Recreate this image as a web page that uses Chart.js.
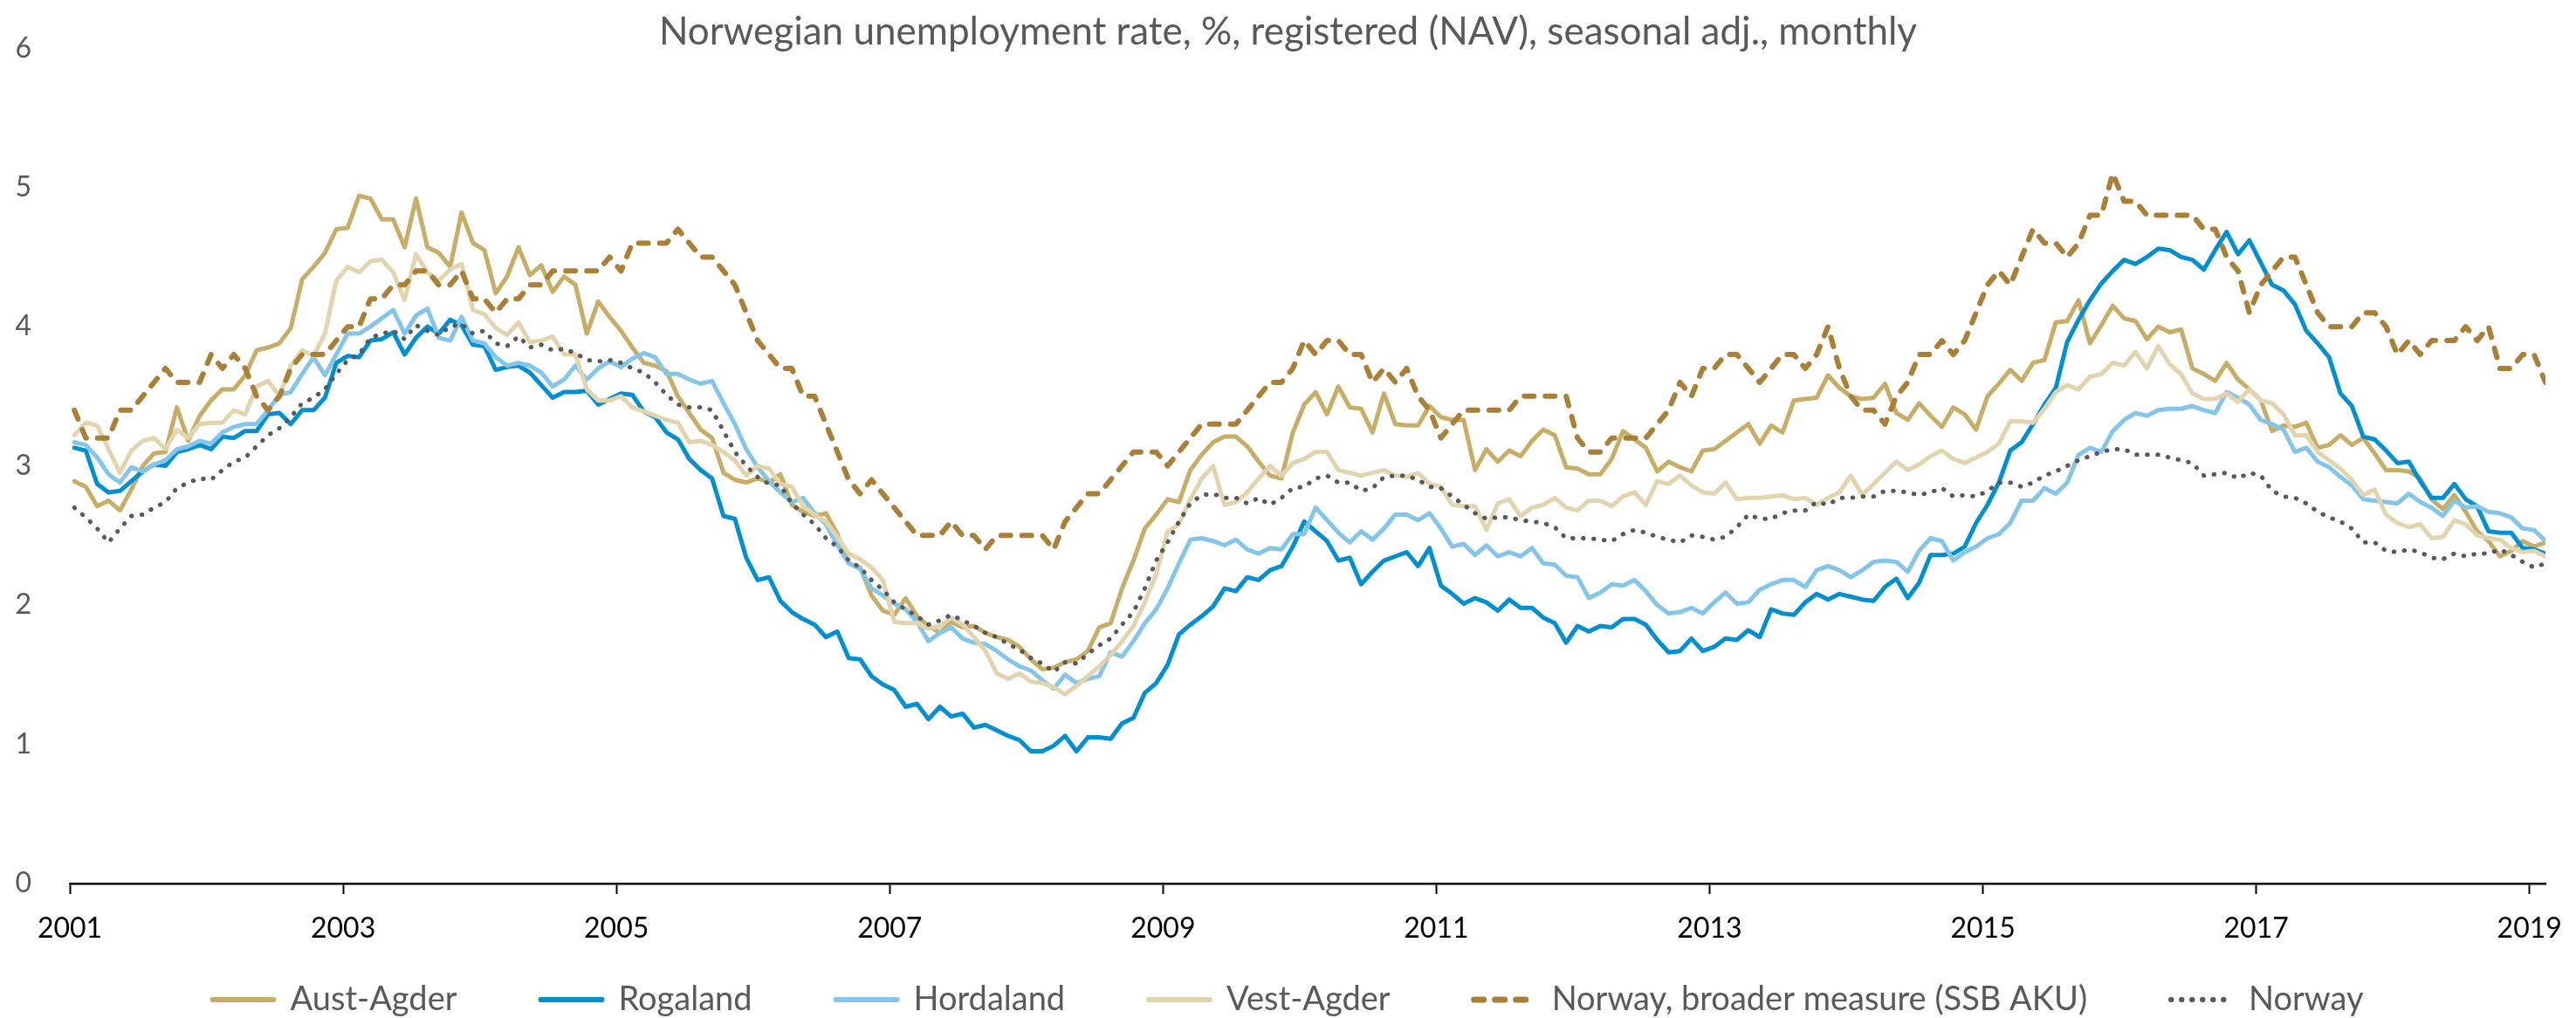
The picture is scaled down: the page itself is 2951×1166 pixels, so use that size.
<!DOCTYPE html>
<html>
<head>
<meta charset="utf-8">
<title>Norwegian unemployment rate</title>
<script src="https://cdn.jsdelivr.net/npm/chart.js@4.4.1/dist/chart.umd.min.js"></script>
<style>
  html, body { margin: 0; padding: 0; background: #fff; }
  #chart { display: block; }
</style>
</head>
<body>
<canvas id="chart" width="2951" height="1166"></canvas>
<script>
// Registered unemployment (NAV), seasonally adjusted, monthly Jan 2001 - Feb 2019
const firstYear = 2001;
const yearTicks = [2001, 2003, 2005, 2007, 2009, 2011, 2013, 2015, 2017, 2019];
const valueTicks = [0, 1, 2, 3, 4, 5, 6];

const austAgder = [
  2.89, 2.85, 2.71, 2.75, 2.68, 2.83, 3.00, 3.09, 3.10, 3.42, 3.18, 3.36, // 2001
  3.47, 3.55, 3.55, 3.65, 3.83, 3.85, 3.88, 3.99, 4.34, 4.43, 4.53, 4.70,
  4.71, 4.94, 4.92, 4.77, 4.77, 4.57, 4.92, 4.57, 4.53, 4.43, 4.82, 4.60,
  4.55, 4.24, 4.36, 4.57, 4.37, 4.44, 4.25, 4.36, 4.30, 3.95, 4.18, 4.07,
  3.97, 3.85, 3.74, 3.72, 3.68, 3.50, 3.38, 3.26, 3.20, 2.95, 2.90, 2.88, // 2005
  2.91, 2.88, 2.94, 2.72, 2.67, 2.64, 2.66, 2.51, 2.30, 2.27, 2.07, 1.96,
  1.93, 2.05, 1.92, 1.85, 1.80, 1.88, 1.84, 1.85, 1.80, 1.77, 1.75, 1.70,
  1.61, 1.54, 1.55, 1.59, 1.61, 1.67, 1.84, 1.87, 2.12, 2.32, 2.55, 2.65,
  2.76, 2.74, 2.97, 3.08, 3.17, 3.21, 3.21, 3.14, 3.03, 2.93, 2.91, 3.24,
  3.44, 3.53, 3.37, 3.57, 3.42, 3.41, 3.24, 3.52, 3.30, 3.29, 3.29, 3.43, // 2010
  3.35, 3.33, 3.33, 2.97, 3.12, 3.03, 3.11, 3.07, 3.18, 3.26, 3.22, 2.99,
  2.98, 2.94, 2.94, 3.05, 3.25, 3.19, 3.13, 2.96, 3.03, 2.99, 2.96, 3.11,
  3.12, 3.18, 3.24, 3.30, 3.16, 3.29, 3.24, 3.47, 3.48, 3.49, 3.65, 3.56,
  3.50, 3.48, 3.49, 3.59, 3.38, 3.33, 3.45, 3.36, 3.28, 3.42, 3.37, 3.26,
  3.50, 3.59, 3.69, 3.61, 3.74, 3.76, 4.03, 4.04, 4.19, 3.88, 4.01, 4.15, // 2015
  4.06, 4.04, 3.91, 4.00, 3.96, 3.98, 3.70, 3.66, 3.61, 3.74, 3.62, 3.55,
  3.47, 3.25, 3.29, 3.28, 3.31, 3.13, 3.15, 3.22, 3.15, 3.20, 3.09, 2.97,
  2.97, 2.96, 2.91, 2.76, 2.69, 2.79, 2.67, 2.53, 2.46, 2.35, 2.39, 2.46,
  2.42, 2.45
];

const rogaland = [
  3.13, 3.11, 2.87, 2.81, 2.82, 2.89, 2.96, 3.01, 3.00, 3.10, 3.12, 3.15, // 2001
  3.12, 3.21, 3.20, 3.25, 3.25, 3.37, 3.38, 3.30, 3.40, 3.40, 3.49, 3.74,
  3.79, 3.78, 3.90, 3.91, 3.96, 3.80, 3.92, 4.00, 3.95, 4.05, 4.01, 3.87,
  3.86, 3.69, 3.71, 3.72, 3.67, 3.58, 3.49, 3.53, 3.53, 3.54, 3.44, 3.48,
  3.52, 3.51, 3.39, 3.35, 3.24, 3.19, 3.05, 2.97, 2.91, 2.64, 2.62, 2.34, // 2005
  2.18, 2.20, 2.03, 1.95, 1.90, 1.86, 1.77, 1.81, 1.62, 1.61, 1.49, 1.43,
  1.39, 1.27, 1.29, 1.18, 1.27, 1.20, 1.22, 1.12, 1.14, 1.10, 1.06, 1.03,
  0.95, 0.95, 0.99, 1.06, 0.95, 1.05, 1.05, 1.04, 1.15, 1.19, 1.37, 1.44,
  1.57, 1.79, 1.86, 1.92, 1.99, 2.12, 2.10, 2.20, 2.18, 2.25, 2.28, 2.42,
  2.60, 2.53, 2.46, 2.32, 2.34, 2.15, 2.24, 2.32, 2.35, 2.38, 2.28, 2.41, // 2010
  2.14, 2.08, 2.01, 2.05, 2.02, 1.96, 2.04, 1.98, 1.98, 1.91, 1.87, 1.73,
  1.85, 1.81, 1.85, 1.84, 1.90, 1.90, 1.86, 1.75, 1.66, 1.67, 1.76, 1.67,
  1.70, 1.76, 1.75, 1.82, 1.77, 1.97, 1.94, 1.93, 2.02, 2.08, 2.04, 2.08,
  2.06, 2.04, 2.03, 2.13, 2.19, 2.05, 2.16, 2.36, 2.36, 2.37, 2.42, 2.59,
  2.72, 2.88, 3.11, 3.17, 3.30, 3.44, 3.56, 3.89, 4.05, 4.19, 4.31, 4.40, // 2015
  4.48, 4.45, 4.50, 4.56, 4.55, 4.50, 4.48, 4.41, 4.55, 4.68, 4.52, 4.62,
  4.46, 4.30, 4.26, 4.16, 3.97, 3.88, 3.78, 3.52, 3.43, 3.21, 3.19, 3.11,
  3.02, 3.03, 2.89, 2.77, 2.77, 2.87, 2.76, 2.71, 2.53, 2.52, 2.52, 2.41,
  2.40, 2.37
];

const hordaland = [
  3.17, 3.15, 3.06, 2.94, 2.88, 2.99, 2.96, 3.01, 3.04, 3.12, 3.14, 3.18, // 2001
  3.16, 3.24, 3.28, 3.30, 3.30, 3.40, 3.51, 3.53, 3.66, 3.78, 3.65, 3.80,
  3.95, 3.95, 4.00, 4.06, 4.12, 3.95, 4.08, 4.13, 3.92, 3.90, 4.07, 3.90,
  3.88, 3.78, 3.72, 3.74, 3.72, 3.67, 3.57, 3.62, 3.72, 3.62, 3.70, 3.75,
  3.71, 3.77, 3.81, 3.78, 3.66, 3.66, 3.62, 3.59, 3.61, 3.45, 3.30, 3.12, // 2005
  2.99, 2.89, 2.81, 2.74, 2.77, 2.66, 2.58, 2.43, 2.30, 2.26, 2.12, 2.07,
  2.01, 1.97, 1.88, 1.74, 1.80, 1.84, 1.76, 1.73, 1.72, 1.67, 1.61, 1.56,
  1.53, 1.46, 1.40, 1.50, 1.44, 1.47, 1.49, 1.66, 1.63, 1.74, 1.87, 1.97,
  2.12, 2.30, 2.47, 2.48, 2.46, 2.43, 2.47, 2.40, 2.37, 2.41, 2.40, 2.51,
  2.51, 2.70, 2.61, 2.52, 2.45, 2.53, 2.47, 2.55, 2.65, 2.65, 2.61, 2.66, // 2010
  2.55, 2.42, 2.44, 2.36, 2.43, 2.35, 2.38, 2.35, 2.41, 2.30, 2.29, 2.21,
  2.20, 2.05, 2.09, 2.15, 2.14, 2.18, 2.10, 2.00, 1.94, 1.95, 1.98, 1.94,
  2.02, 2.09, 2.01, 2.02, 2.11, 2.15, 2.18, 2.18, 2.13, 2.25, 2.28, 2.25,
  2.20, 2.25, 2.31, 2.32, 2.31, 2.24, 2.39, 2.48, 2.46, 2.32, 2.38, 2.42,
  2.48, 2.51, 2.59, 2.75, 2.75, 2.84, 2.80, 2.88, 3.08, 3.13, 3.10, 3.25, // 2015
  3.33, 3.38, 3.36, 3.40, 3.41, 3.41, 3.43, 3.40, 3.38, 3.53, 3.49, 3.44,
  3.33, 3.30, 3.26, 3.10, 3.13, 3.03, 2.99, 2.92, 2.86, 2.76, 2.75, 2.74,
  2.73, 2.80, 2.74, 2.70, 2.64, 2.75, 2.70, 2.71, 2.67, 2.66, 2.63, 2.55,
  2.54, 2.46
];

const vestAgder = [
  3.22, 3.31, 3.29, 3.12, 2.95, 3.11, 3.18, 3.20, 3.12, 3.26, 3.20, 3.30, // 2001
  3.31, 3.31, 3.40, 3.37, 3.57, 3.61, 3.50, 3.72, 3.83, 3.79, 3.95, 4.33,
  4.43, 4.39, 4.47, 4.48, 4.39, 4.19, 4.52, 4.39, 4.33, 4.41, 4.45, 4.12,
  4.09, 3.99, 3.94, 4.03, 3.89, 3.90, 3.93, 3.80, 3.80, 3.55, 3.47, 3.47,
  3.50, 3.42, 3.39, 3.36, 3.33, 3.31, 3.17, 3.18, 3.15, 3.10, 3.04, 2.93, // 2005
  3.00, 2.98, 2.87, 2.85, 2.71, 2.65, 2.60, 2.49, 2.37, 2.33, 2.27, 2.18,
  1.88, 1.87, 1.87, 1.83, 1.85, 1.91, 1.86, 1.77, 1.67, 1.51, 1.47, 1.51,
  1.45, 1.44, 1.41, 1.36, 1.42, 1.49, 1.56, 1.64, 1.74, 1.85, 2.02, 2.22,
  2.53, 2.58, 2.76, 2.91, 3.00, 2.72, 2.74, 2.81, 2.91, 3.00, 2.93, 3.02,
  3.05, 3.10, 3.10, 2.97, 2.95, 2.93, 2.95, 2.97, 2.93, 2.92, 2.95, 2.87, // 2010
  2.85, 2.72, 2.71, 2.71, 2.54, 2.73, 2.76, 2.64, 2.70, 2.72, 2.77, 2.70,
  2.68, 2.75, 2.75, 2.71, 2.78, 2.81, 2.72, 2.89, 2.87, 2.93, 2.86, 2.81,
  2.80, 2.88, 2.76, 2.77, 2.77, 2.78, 2.79, 2.76, 2.77, 2.72, 2.77, 2.81,
  2.93, 2.79, 2.87, 2.95, 3.03, 2.97, 3.01, 3.07, 3.11, 3.05, 3.02, 3.06,
  3.10, 3.16, 3.32, 3.32, 3.31, 3.41, 3.53, 3.58, 3.55, 3.64, 3.66, 3.74, // 2015
  3.72, 3.82, 3.70, 3.86, 3.73, 3.66, 3.52, 3.48, 3.48, 3.52, 3.46, 3.55,
  3.47, 3.45, 3.37, 3.22, 3.22, 3.10, 3.04, 2.98, 2.90, 2.79, 2.83, 2.65,
  2.59, 2.56, 2.58, 2.48, 2.49, 2.61, 2.58, 2.50, 2.48, 2.47, 2.41, 2.38,
  2.39, 2.35
];

// SSB labour force survey (AKU), published to one decimal
const broaderMeasure = [
  3.4, 3.2, 3.2, 3.2, 3.4, 3.4, 3.5, 3.6, 3.7, 3.6, 3.6, 3.6, // 2001
  3.8, 3.7, 3.8, 3.7, 3.5, 3.4, 3.5, 3.7, 3.8, 3.8, 3.8, 3.9,
  4.0, 4.0, 4.2, 4.2, 4.3, 4.3, 4.4, 4.4, 4.3, 4.3, 4.4, 4.2,
  4.2, 4.1, 4.2, 4.2, 4.3, 4.3, 4.4, 4.4, 4.4, 4.4, 4.4, 4.5,
  4.4, 4.6, 4.6, 4.6, 4.6, 4.7, 4.6, 4.5, 4.5, 4.4, 4.3, 4.1, // 2005
  3.9, 3.8, 3.7, 3.7, 3.5, 3.5, 3.3, 3.1, 2.9, 2.8, 2.9, 2.8,
  2.7, 2.6, 2.5, 2.5, 2.5, 2.6, 2.5, 2.5, 2.4, 2.5, 2.5, 2.5,
  2.5, 2.5, 2.4, 2.6, 2.7, 2.8, 2.8, 2.9, 3.0, 3.1, 3.1, 3.1,
  3.0, 3.1, 3.2, 3.3, 3.3, 3.3, 3.3, 3.4, 3.5, 3.6, 3.6, 3.7,
  3.9, 3.8, 3.9, 3.9, 3.8, 3.8, 3.6, 3.7, 3.6, 3.7, 3.5, 3.4, // 2010
  3.2, 3.3, 3.4, 3.4, 3.4, 3.4, 3.4, 3.5, 3.5, 3.5, 3.5, 3.5,
  3.2, 3.1, 3.1, 3.2, 3.2, 3.2, 3.2, 3.3, 3.4, 3.6, 3.5, 3.7,
  3.7, 3.8, 3.8, 3.7, 3.6, 3.7, 3.8, 3.8, 3.7, 3.8, 4.0, 3.7,
  3.5, 3.4, 3.4, 3.3, 3.5, 3.6, 3.8, 3.8, 3.9, 3.8, 3.9, 4.1,
  4.3, 4.4, 4.3, 4.5, 4.7, 4.6, 4.6, 4.5, 4.6, 4.8, 4.8, 5.1, // 2015
  4.9, 4.9, 4.8, 4.8, 4.8, 4.8, 4.8, 4.7, 4.7, 4.5, 4.4, 4.1,
  4.3, 4.4, 4.5, 4.5, 4.3, 4.1, 4.0, 4.0, 4.0, 4.1, 4.1, 4.0,
  3.8, 3.9, 3.8, 3.9, 3.9, 3.9, 4.0, 3.9, 4.0, 3.7, 3.7, 3.8,
  3.8, 3.6
];

const norway = [
  2.70, 2.63, 2.55, 2.45, 2.55, 2.64, 2.65, 2.70, 2.74, 2.84, 2.88, 2.91, // 2001
  2.90, 2.97, 3.03, 3.06, 3.14, 3.22, 3.27, 3.35, 3.45, 3.49, 3.55, 3.66,
  3.76, 3.80, 3.92, 3.95, 3.97, 3.91, 4.01, 3.97, 3.94, 4.00, 4.02, 3.95,
  3.97, 3.88, 3.86, 3.93, 3.85, 3.87, 3.83, 3.84, 3.81, 3.76, 3.75, 3.76,
  3.74, 3.70, 3.67, 3.60, 3.51, 3.44, 3.42, 3.42, 3.40, 3.25, 3.10, 3.00, // 2005
  2.92, 2.87, 2.86, 2.73, 2.65, 2.58, 2.48, 2.42, 2.32, 2.27, 2.18, 2.11,
  2.02, 1.97, 1.92, 1.86, 1.89, 1.93, 1.89, 1.85, 1.80, 1.77, 1.72, 1.68,
  1.62, 1.58, 1.52, 1.59, 1.58, 1.65, 1.71, 1.76, 1.86, 1.95, 2.12, 2.32,
  2.45, 2.60, 2.73, 2.79, 2.80, 2.77, 2.77, 2.73, 2.77, 2.72, 2.77, 2.84,
  2.85, 2.91, 2.93, 2.88, 2.88, 2.82, 2.84, 2.92, 2.93, 2.93, 2.90, 2.85, // 2010
  2.84, 2.78, 2.72, 2.66, 2.62, 2.63, 2.63, 2.61, 2.60, 2.59, 2.56, 2.48,
  2.48, 2.48, 2.47, 2.46, 2.51, 2.54, 2.52, 2.49, 2.47, 2.45, 2.50, 2.49,
  2.47, 2.49, 2.56, 2.65, 2.62, 2.62, 2.66, 2.68, 2.68, 2.74, 2.72, 2.77,
  2.77, 2.78, 2.78, 2.82, 2.82, 2.81, 2.79, 2.81, 2.84, 2.78, 2.79, 2.78,
  2.82, 2.88, 2.88, 2.85, 2.88, 2.93, 2.96, 3.00, 3.04, 3.07, 3.10, 3.12, // 2015
  3.12, 3.08, 3.08, 3.08, 3.06, 3.04, 3.02, 2.93, 2.94, 2.95, 2.91, 2.95,
  2.93, 2.82, 2.78, 2.77, 2.73, 2.67, 2.63, 2.60, 2.55, 2.45, 2.45, 2.39,
  2.38, 2.40, 2.38, 2.34, 2.33, 2.37, 2.35, 2.37, 2.37, 2.40, 2.36, 2.31,
  2.27, 2.30
];

// date axis: each monthly value sits a little into its month, ticks on 1 January
const monthOffset = 0.4;
const months = austAgder.map((_, i) => firstYear + (i + monthOffset) / 12);

const grey = '#595959';
Chart.defaults.font.family = 'Lato, "Open Sans", sans-serif';

const series = [
  { label: 'Aust-Agder', data: austAgder, borderColor: '#C8AD66', borderWidth: 5 },
  { label: 'Rogaland', data: rogaland, borderColor: '#0090D2', borderWidth: 5 },
  { label: 'Hordaland', data: hordaland, borderColor: '#84C6EA', borderWidth: 5 },
  { label: 'Vest-Agder', data: vestAgder, borderColor: '#E1D4AE', borderWidth: 5 },
  { label: 'Norway, broader measure (SSB AKU)', data: broaderMeasure, borderColor: '#A98036', borderWidth: 6, borderDash: [11, 13] },
  { label: 'Norway', data: norway, borderColor: grey, borderWidth: 5, borderDash: [0.5, 11.5] }
];

// later series are painted on top of earlier ones
const datasets = series.map((s, i) => Object.assign({}, s, {
  order: series.length - 1 - i,
  pointRadius: 0,
  fill: false,
  tension: 0,
  borderCapStyle: 'round',
  borderJoinStyle: 'round'
}));

// legend samples drawn as short line segments in each series' own style
function lineLegend(chart) {
  return chart.data.datasets.map((ds, i) => ({
    text: ds.label,
    datasetIndex: i,
    pointStyle: 'line',
    strokeStyle: ds.borderColor,
    fillStyle: ds.borderColor,
    lineWidth: ds.borderWidth + 1,
    lineDash: ds.borderDash || [],
    lineCap: 'round',
    fontColor: grey,
    hidden: false
  }));
}

// the x-axis box is kept thin so the wide legend fits; open its label clip
// downwards so the year labels show, and drop the legend row a touch lower
const bottomBand = {
  id: 'bottomBand',
  afterLayout(chart) {
    const x = chart.scales.x;
    x.bottom = x.top + 90;
    chart.legend.top += 8;
    chart.legend.bottom += 8;
  }
};

new Chart(document.getElementById('chart'), {
  type: 'line',
  data: { labels: months, datasets },
  plugins: [bottomBand],
  options: {
    responsive: false,
    animation: false,
    devicePixelRatio: 1,
    events: [],
    layout: { padding: 0 },
    plugins: {
      tooltip: { enabled: false },
      title: {
        display: true,
        text: 'Norwegian unemployment rate, %, registered (NAV), seasonal adj., monthly',
        color: grey,
        font: { size: 44, weight: 'normal', lineHeight: 0.85 },
        padding: { top: 15, bottom: 0 }
      },
      legend: {
        position: 'bottom',
        labels: {
          usePointStyle: true,
          pointStyleWidth: 70,
          padding: 96,
          color: grey,
          font: { size: 38 },
          generateLabels: lineLegend
        }
      }
    },
    scales: {
      x: {
        type: 'linear',
        min: firstYear,
        max: months[months.length - 1],
        afterBuildTicks: scale => { scale.ticks = yearTicks.map(v => ({ value: v })); },
        afterFit: scale => { scale.height = 10; },
        ticks: {
          color: '#000',
          // tall line box drops the year labels without widening the side padding
          font: { size: 32, lineHeight: 1.575 },
          padding: 14,
          maxRotation: 0,
          autoSkip: false,
          callback: v => String(v)
        },
        grid: { display: true, drawOnChartArea: false, drawTicks: true, tickLength: 12, tickColor: '#000', tickWidth: 2 },
        border: { display: true, color: '#000', width: 2.5 }
      },
      y: {
        min: 0,
        max: 6,
        afterBuildTicks: scale => { scale.ticks = valueTicks.map(v => ({ value: v })); },
        afterFit: scale => { scale.width = 80; },
        ticks: { color: grey, font: { size: 32 }, padding: 36 },
        grid: { display: false },
        border: { display: false }
      },
      // empty right-hand axis: keeps the plot off the right edge while title and legend stay centred on the page
      gutter: {
        position: 'right',
        afterFit: scale => { scale.width = 35; },
        ticks: { display: false },
        grid: { display: false },
        border: { display: false }
      }
    }
  }
});
</script>
</body>
</html>
